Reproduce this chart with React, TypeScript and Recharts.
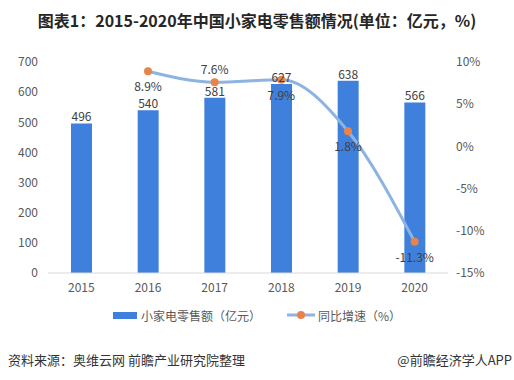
import React from "react";
import {
  ComposedChart,
  Bar,
  Line,
  XAxis,
  YAxis,
  LabelList,
  Legend,
} from "recharts";

const years = ["2015", "2016", "2017", "2018", "2019", "2020"];
const retailSales = [496, 540, 581, 627, 638, 566];
const growthRate: (number | null)[] = [null, 8.9, 7.6, 7.9, 1.8, -11.3];
const leftTicks = [0, 100, 200, 300, 400, 500, 600, 700];
const rightTicks = [-15, -10, -5, 0, 5, 10];

const data = years.map((year, i) => ({
  year,
  sales: retailSales[i],
  growth: growthRate[i],
}));

const FONT = '"Noto Sans CJK SC", "Noto Sans", sans-serif';
const BAR_COLOR = "#3f80dc";
const LINE_COLOR = "#8db3e2";
const DOT_COLOR = "#e8834a";

const GrowthLabel = (props: any) => {
  const { x, y, value, index } = props;
  if (value == null) return null;
  // 2017 sits above its point, the rest below
  const above = index === 2;
  return (
    <text
      x={x}
      y={above ? y - 8 : y + 9}
      textAnchor="middle"
      dominantBaseline={above ? "auto" : "hanging"}
      fontSize={12}
      fill="#404040"
      fontFamily={FONT}
    >
      {`${value}%`}
    </text>
  );
};

const LegendContent = () => (
  <div
    style={{
      display: "flex",
      justifyContent: "center",
      alignItems: "center",
      height: 30,
      fontSize: 12,
      color: "#595959",
      fontFamily: FONT,
    }}
  >
    <span style={{ display: "inline-block", width: 24, height: 7, background: BAR_COLOR, marginRight: 4 }} />
    <span>小家电零售额（亿元）</span>
    <svg width={28} height={10} style={{ marginLeft: 26, marginRight: 3 }}>
      <line x1={0} y1={5} x2={28} y2={5} stroke={LINE_COLOR} strokeWidth={3} />
      <circle cx={14} cy={5} r={4} fill={DOT_COLOR} />
    </svg>
    <span>同比增速（%）</span>
  </div>
);

export default function App() {
  return (
    <div
      style={{
        position: "absolute",
        left: 0,
        top: 0,
        width: 514,
        height: 380,
        background: "#fff",
        fontFamily: FONT,
      }}
    >
      <div
        style={{
          position: "absolute",
          top: 8,
          left: 0,
          width: 514,
          textAlign: "center",
          fontSize: 16,
          fontWeight: "bold",
          color: "#262626",
        }}
      >
        图表1：2015-2020年中国小家电零售额情况(单位：亿元，%)
      </div>
      <ComposedChart
        width={514}
        height={340}
        data={data}
        margin={{ top: 62, right: 0, left: 0, bottom: 10 }}
        style={{ position: "absolute", top: 0, left: 0 }}
      >
        <XAxis
          dataKey="year"
          height={27}
          tickLine={false}
          axisLine={{ stroke: "#d9d9d9" }}
          tick={{ fontSize: 12, fill: "#595959", fontFamily: FONT }}
          tickMargin={4}
        />
        <YAxis
          yAxisId="left"
          width={48}
          domain={[0, 700]}
          ticks={leftTicks}
          axisLine={false}
          tickLine={false}
          tickMargin={4}
          tick={{ fontSize: 12, fill: "#595959", fontFamily: FONT }}
        />
        <YAxis
          yAxisId="right"
          orientation="right"
          width={66}
          domain={[-15, 10]}
          ticks={rightTicks}
          axisLine={false}
          tickLine={false}
          tickFormatter={(v: number) => `${v}%`}
          tick={{ fontSize: 12, fill: "#595959", fontFamily: FONT, textAnchor: "start" }}
        />
        <Bar
          yAxisId="left"
          dataKey="sales"
          fill={BAR_COLOR}
          barSize={21}
          isAnimationActive={false}
        >
          <LabelList
            dataKey="sales"
            position="top"
            offset={2}
            fontSize={12}
            fill="#404040"
            fontFamily={FONT}
          />
        </Bar>
        <Line
          yAxisId="right"
          dataKey="growth"
          type="monotone"
          stroke={LINE_COLOR}
          strokeWidth={3}
          dot={{ r: 4, fill: DOT_COLOR, stroke: DOT_COLOR, strokeWidth: 0 }}
          activeDot={false}
          isAnimationActive={false}
        >
          <LabelList dataKey="growth" content={<GrowthLabel />} />
        </Line>
        <Legend verticalAlign="bottom" content={<LegendContent />} wrapperStyle={{ height: 30 }} />
      </ComposedChart>
      <div
        style={{
          position: "absolute",
          top: 350,
          left: 8,
          fontSize: 13,
          color: "#333",
        }}
      >
        资料来源：奥维云网 前瞻产业研究院整理
      </div>
      <div
        style={{
          position: "absolute",
          top: 350,
          right: 2,
          fontSize: 13,
          color: "#333",
        }}
      >
        @前瞻经济学人APP
      </div>
    </div>
  );
}
